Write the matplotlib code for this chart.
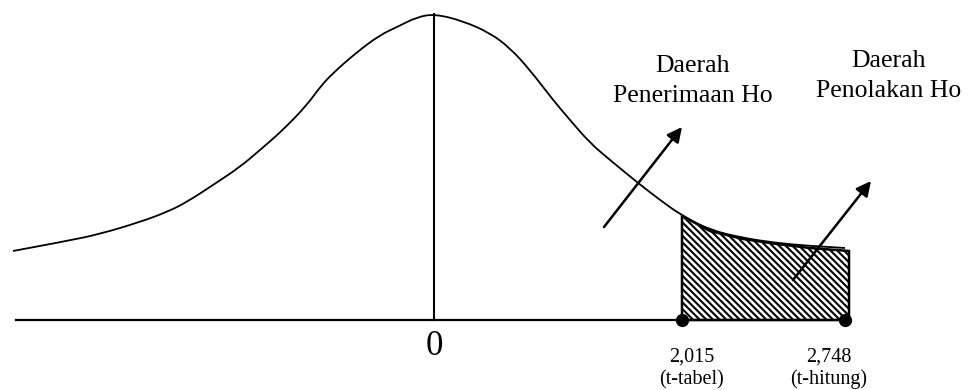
import numpy as np
import matplotlib
matplotlib.use("Agg")
import matplotlib.pyplot as plt
from matplotlib.path import Path
from matplotlib.patches import PathPatch

plt.rcParams['font.family'] = ['Liberation Serif', 'DejaVu Serif']
plt.rcParams['hatch.linewidth'] = 1.5

# kurva distribusi t (digambar tangan): posisi x dan tinggi di atas garis dasar
curve_x = [13, 67, 100, 140, 167, 187, 213, 240, 260, 283, 307, 320, 333, 357,
           380, 397, 417, 435, 463, 490, 510, 530, 553, 570, 590, 610, 638, 660,
           681, 710, 743, 777, 810, 845]
curve_h = [69, 79, 86, 98, 108, 118, 135, 153, 170, 190, 215, 233, 247, 268,
           285, 293, 303, 306, 299, 287, 272, 250, 220, 200, 177, 160, 137, 120,
           105, 90, 82, 77, 74, 72]

# daerah penolakan (arsiran)
reject_x = [682, 710, 743, 777, 810, 849]
reject_h = [104, 89, 81, 76, 72, 69]

base_x = [16, 848]
peak_x = 434
peak_h = 306

# titik t-tabel dan t-hitung
point_x = [682, 845]
point_val = ["2,015", "2,748"]
point_name = ["(t-tabel)", "(t-hitung)"]
point_lbl_x = [692, 829]

# panah keterangan (ekor -> kepala)
arrow_tail = [(604, 93), (793, 40)]
arrow_head = [(682, 193), (871, 139)]

region_lines = [["Daerah", "Penerimaan Ho"], ["Daerah", "Penolakan Ho"]]
region_x = [693, 889]
region_h = [(248, 218), (253, 223)]

fig = plt.figure(figsize=(9.75, 3.9), dpi=100)
ax = fig.add_axes([0, 0, 1, 1])
ax.set_xlim(0, 975)
ax.set_ylim(-70, 320)
ax.axis('off')

# arsiran
px = [reject_x[0]] + reject_x + [reject_x[-1]]
ph = [0] + reject_h + [0]
ax.fill(px, ph, facecolor='white', edgecolor='black', hatch='\\\\\\\\\\', lw=1.8, zorder=2)

# kurva halus: titik data sebagai titik kontrol kuadratik
pts = np.column_stack([curve_x, curve_h]).astype(float)
verts = [pts[0]]
codes = [Path.MOVETO]
for i in range(1, len(pts) - 1):
    mid = (pts[i] + pts[i + 1]) / 2 if i < len(pts) - 2 else pts[i + 1]
    verts += [pts[i], mid]
    codes += [Path.CURVE3, Path.CURVE3]
ax.add_patch(PathPatch(Path(verts, codes), fill=False, edgecolor='black', lw=1.3, zorder=3))

ax.plot(base_x, [0, 0], color='black', lw=1.6, zorder=3)
ax.plot([peak_x, peak_x], [0, peak_h], color='black', lw=1.5, zorder=3)

ax.plot(point_x, [0, 0], 'o', color='black', ms=8.5, zorder=4)

ax.text(peak_x, -35, "0", ha='center', va='baseline', fontsize=25)
for lx, v, n in zip(point_lbl_x, point_val, point_name):
    ax.text(lx, -42, v, ha='center', va='baseline', fontsize=14.5)
    ax.text(lx, -64, n, ha='center', va='baseline', fontsize=14.5)

for (tx, th), (hx, hh) in zip(arrow_tail, arrow_head):
    ax.annotate("", xy=(hx, hh), xytext=(tx, th),
                arrowprops=dict(arrowstyle='-|>', color='black', lw=1.8,
                                mutation_scale=22, shrinkA=0, shrinkB=0))

for lines, rx, (h1, h2) in zip(region_lines, region_x, region_h):
    ax.text(rx, h1, lines[0], ha='center', va='baseline', fontsize=18.5)
    ax.text(rx, h2, lines[1], ha='center', va='baseline', fontsize=18.5)

plt.savefig('out.png', dpi=100)
